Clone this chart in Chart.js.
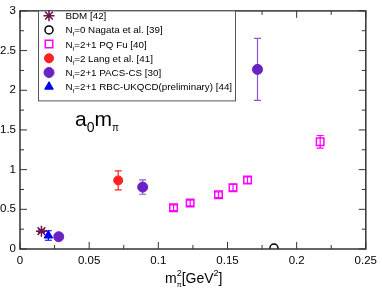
<!DOCTYPE html>
<html>
<head>
<meta charset="utf-8">
<script src="https://cdn.jsdelivr.net/npm/chart.js@4.4.1/dist/chart.umd.min.js"></script>
<style>
html, body { margin: 0; padding: 0; background: #fff; }
#wrap { width: 382px; height: 289px; position: relative; }
</style>
</head>
<body>
<div id="wrap"><canvas id="myChart"></canvas></div>
<script>
// values: x = m_pi^2 [GeV^2], y = a0 m_pi
const bdmX = [0.0155];
const bdmY = [0.225];
const bdmErr = [0.015];

const nagataX = [0.1836];
const nagataY = [0.012];
const nagataErr = [0];

const pqfuX = [0.111, 0.123, 0.1435, 0.154, 0.1645, 0.217];
const pqfuY = [0.52, 0.58, 0.683, 0.773, 0.868, 1.35];
const pqfuErr = [0.035, 0.035, 0.035, 0.04, 0.04, 0.08];

const langX = [0.071];
const langY = [0.864];
const langErr = [0.12];

const pacsX = [0.028, 0.0887, 0.1717];
const pacsY = [0.155, 0.78, 2.263];
const pacsErr = [0.02, 0.09, 0.39];

const rbcX = [0.0205];
const rbcY = [0.17];
const rbcErr = [0.06];

const xTicks = [0, 0.05, 0.1, 0.15, 0.2, 0.25];
const xMinor = [0.025, 0.075, 0.125, 0.175, 0.225];
const yTicks = [0, 0.5, 1, 1.5, 2, 2.5, 3];
const yMinor = [0.25, 0.75, 1.25, 1.75, 2.25, 2.75];

const FONT = "'Liberation Sans', Arial, Helvetica, sans-serif";

function pts(xs, ys) {
    return xs.map((x, i) => ({ x: x, y: ys[i] }));
}

// legend labels as rich text pieces: [text, 'n' | 'sub' | 'sup']
const legendItems = [
    [['BDM [42]', 'n']],
    [['N', 'n'], ['f', 'sub'], ['=0 Nagata et al. [39]', 'n']],
    [['N', 'n'], ['f', 'sub'], ['=2+1 PQ Fu [40]', 'n']],
    [['N', 'n'], ['f', 'sub'], ['=2 Lang et al. [41]', 'n']],
    [['N', 'n'], ['f', 'sub'], ['=2+1 PACS-CS [30]', 'n']],
    [['N', 'n'], ['f', 'sub'], ['=2+1 RBC-UKQCD(preliminary) [44]', 'n']]
];

function drawRich(ctx, x, y, parts, size) {
    let cx = x;
    parts.forEach(p => {
        let s = size, dy = 0;
        if (p[1] === 'sub') { s = size * 0.6; dy = size * 0.3; }
        if (p[1] === 'sup') { s = size * 0.6; dy = -size * 0.45; }
        ctx.font = s + 'px ' + FONT;
        ctx.fillText(p[0], cx, y + dy);
        cx += ctx.measureText(p[0]).width;
    });
    return cx;
}

const errorBars = {
    id: 'errorBars',
    beforeDatasetsDraw(chart) {
        const ctx = chart.ctx;
        const xs = chart.scales.x, ys = chart.scales.y;
        ctx.save();
        chart.data.datasets.forEach(ds => {
            if (!ds.err) return;
            ds.data.forEach((p, i) => {
                const e = ds.err[i];
                if (!e) return;
                const px = xs.getPixelForValue(p.x);
                const top = ys.getPixelForValue(p.y + e);
                const bot = ys.getPixelForValue(p.y - e);
                ctx.strokeStyle = ds.errColor;
                ctx.lineWidth = 1.2;
                ctx.beginPath();
                ctx.moveTo(px, top); ctx.lineTo(px, bot);
                ctx.moveTo(px - 3.5, top); ctx.lineTo(px + 3.5, top);
                ctx.moveTo(px - 3.5, bot); ctx.lineTo(px + 3.5, bot);
                ctx.stroke();
            });
        });
        ctx.restore();
    }
};

const frameAndText = {
    id: 'frameAndText',
    afterDraw(chart) {
        const ctx = chart.ctx;
        const a = chart.chartArea;
        const xs = chart.scales.x, ys = chart.scales.y;
        ctx.save();
        // frame
        ctx.strokeStyle = '#333';
        ctx.lineWidth = 1.5;
        ctx.strokeRect(a.left, a.top, a.right - a.left, a.bottom - a.top);
        // inward ticks on all four sides
        ctx.lineWidth = 1;
        ctx.beginPath();
        xTicks.concat(xMinor).forEach(v => {
            const len = xTicks.includes(v) ? 7 : 4;
            const px = xs.getPixelForValue(v);
            ctx.moveTo(px, a.bottom); ctx.lineTo(px, a.bottom - len);
            ctx.moveTo(px, a.top); ctx.lineTo(px, a.top + len);
        });
        yTicks.concat(yMinor).forEach(v => {
            const len = yTicks.includes(v) ? 7 : 4;
            const py = ys.getPixelForValue(v);
            ctx.moveTo(a.left, py); ctx.lineTo(a.left + len, py);
            ctx.moveTo(a.right, py); ctx.lineTo(a.right - len, py);
        });
        ctx.stroke();

        // legend box
        ctx.fillStyle = '#fff';
        ctx.fillRect(38, a.top, 197, 90);
        ctx.strokeStyle = '#555';
        ctx.lineWidth = 1;
        ctx.strokeRect(38.5, a.top, 197, 90);
        chart.data.datasets.forEach((ds, i) => {
            const my = 15.7 + i * 14.2;
            ctx.fillStyle = ds.backgroundColor;
            ctx.strokeStyle = ds.borderColor;
            ctx.lineWidth = ds.borderWidth;
            Chart.helpers.drawPoint(ctx, {
                pointStyle: ds.pointStyle,
                radius: ds.pointRadius,
                rotation: 0,
                borderWidth: ds.borderWidth
            }, 49, my);
            ctx.fillStyle = '#000';
            ctx.textBaseline = 'alphabetic';
            ctx.textAlign = 'left';
            drawRich(ctx, 65.5, my + 3.5, legendItems[i], 9.8);
        });

        // a0 m_pi annotation
        ctx.fillStyle = '#000';
        let cx = drawRich(ctx, 75, 126, [['a', 'n']], 21);
        ctx.font = '14px ' + FONT;
        ctx.fillText('0', cx, 132);
        cx += ctx.measureText('0').width;
        ctx.font = '21px ' + FONT;
        ctx.fillText('m', cx, 126);
        cx += ctx.measureText('m').width;
        ctx.font = '10px ' + FONT;
        ctx.fillText('π', cx, 131);

        // x axis title: m_pi^2 [GeV^2]
        let tx = 165, ty = 283;
        ctx.font = '14px ' + FONT;
        ctx.fillText('m', tx, ty);
        const mw = ctx.measureText('m').width;
        ctx.font = '9px ' + FONT;
        ctx.fillText('2', tx + mw, ty - 7);
        ctx.font = '7px ' + FONT;
        ctx.fillText('π', tx + mw, ty + 4);
        tx += mw + 5;
        ctx.font = '14px ' + FONT;
        ctx.fillText('[GeV', tx, ty);
        tx += ctx.measureText('[GeV').width;
        ctx.font = '9px ' + FONT;
        ctx.fillText('2', tx, ty - 7);
        tx += ctx.measureText('2').width;
        ctx.font = '14px ' + FONT;
        ctx.fillText(']', tx, ty);
        ctx.restore();
    }
};

function buildChart() {
    const data = {
        datasets: [
            {
                label: 'BDM [42]',
                data: pts(bdmX, bdmY),
                err: bdmErr,
                errColor: '#6b1050',
                pointStyle: 'star',
                pointRadius: 5.5,
                borderWidth: 1.5,
                borderColor: '#6b1050',
                backgroundColor: '#6b1050'
            },
            {
                label: 'Nf=0 Nagata et al. [39]',
                data: pts(nagataX, nagataY),
                err: nagataErr,
                errColor: '#000',
                pointStyle: 'circle',
                pointRadius: 4,
                borderWidth: 1.5,
                borderColor: '#000',
                backgroundColor: 'rgba(0,0,0,0)'
            },
            {
                label: 'Nf=2+1 PQ Fu [40]',
                data: pts(pqfuX, pqfuY),
                err: pqfuErr,
                errColor: '#ff00ff',
                pointStyle: 'rect',
                pointRadius: 5.3,
                borderWidth: 1.5,
                borderColor: '#ff00ff',
                backgroundColor: 'rgba(0,0,0,0)'
            },
            {
                label: 'Nf=2 Lang et al. [41]',
                data: pts(langX, langY),
                err: langErr,
                errColor: '#ff2020',
                pointStyle: 'circle',
                pointRadius: 4.5,
                borderWidth: 1,
                borderColor: '#ff2020',
                backgroundColor: '#ff2020'
            },
            {
                label: 'Nf=2+1 PACS-CS [30]',
                data: pts(pacsX, pacsY),
                err: pacsErr,
                errColor: '#8f55dc',
                pointStyle: 'circle',
                pointRadius: 5,
                borderWidth: 1,
                borderColor: '#6a22c4',
                backgroundColor: '#6a22c4'
            },
            {
                label: 'Nf=2+1 RBC-UKQCD(preliminary) [44]',
                data: pts(rbcX, rbcY),
                err: rbcErr,
                errColor: '#0000ff',
                pointStyle: 'triangle',
                pointRadius: 5,
                borderWidth: 1,
                borderColor: '#0000ff',
                backgroundColor: '#0000ff'
            }
        ]
    };

    const config = {
        type: 'scatter',
        data: data,
        plugins: [errorBars, frameAndText],
        options: {
            responsive: true,
            maintainAspectRatio: false,
            animation: false,
            layout: {
                autoPadding: false,
                padding: { top: 6, right: 13, left: 0, bottom: 0 }
            },
            plugins: {
                legend: { display: false },
                tooltip: { enabled: false }
            },
            scales: {
                x: {
                    type: 'linear',
                    min: 0,
                    max: 0.25,
                    afterBuildTicks: s => { s.ticks = xTicks.map(v => ({ value: v })); },
                    afterFit: s => { s.height = 40; },
                    grid: { display: false, drawTicks: false },
                    border: { display: false },
                    ticks: {
                        padding: 5,
                        maxRotation: 0,
                        autoSkip: false,
                        color: '#000',
                        font: { family: FONT, size: 11.5 },
                        callback: v => String(v)
                    }
                },
                y: {
                    type: 'linear',
                    min: 0,
                    max: 3,
                    afterBuildTicks: s => { s.ticks = yTicks.map(v => ({ value: v })); },
                    afterFit: s => { s.width = 20; },
                    grid: { display: false, drawTicks: false },
                    border: { display: false },
                    ticks: {
                        padding: 4,
                        autoSkip: false,
                        color: '#000',
                        font: { family: FONT, size: 11.5 },
                        callback: v => String(v)
                    }
                }
            }
        }
    };

    new Chart(document.getElementById('myChart').getContext('2d'), config);
}

buildChart();
</script>
</body>
</html>
